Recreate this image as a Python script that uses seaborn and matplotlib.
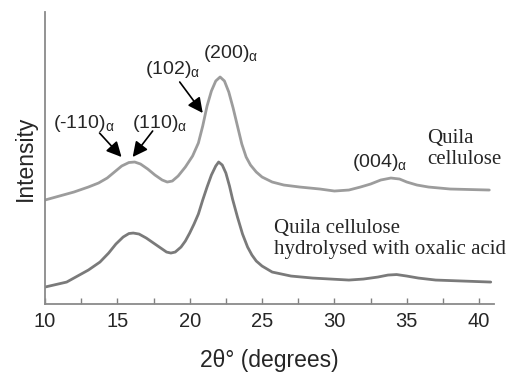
import pandas as pd
import matplotlib.pyplot as plt
import seaborn as sns

# XRD pattern (intensity in arbitrary units)
two_theta_top = [10, 11, 12, 13, 13.7, 14.3, 14.8, 15.3, 15.8, 16.2, 16.6, 17.1, 17.6, 18.1,
                 18.45, 18.8, 19.2, 19.7, 20.2, 20.6, 20.9, 21.2, 21.5, 21.8, 22.1, 22.4, 22.7,
                 23.0, 23.3, 23.6, 23.9, 24.2, 24.6, 25.0, 25.7, 26.5, 27.6, 29, 30, 31, 31.8,
                 32.5, 33.2, 33.9, 34.5, 35, 35.7, 36.5, 38, 40.7]
intensity_top = [104, 108, 112, 117, 121, 126, 132, 138, 141.5, 142, 140, 135, 129, 124,
                 122, 123, 128, 137, 148, 161, 178, 198, 213, 223, 227, 223, 212,
                 196, 178, 160, 147, 139, 132, 127, 122, 119, 117, 115, 113, 114, 117,
                 120, 124, 126, 125, 122, 119, 117, 115, 114]

two_theta_bottom = [10, 11.5, 13, 13.8, 14.4, 14.9, 15.4, 15.8, 16.1, 16.5, 17.0, 17.5, 18.0,
                    18.4, 18.7, 19.0, 19.4, 19.7, 20.0, 20.3, 20.6, 20.9, 21.2, 21.5, 21.8,
                    22.0, 22.25, 22.5, 22.75, 22.96, 23.3, 23.65, 24.0, 24.3, 24.6, 25.0, 25.7,
                    27, 28.5, 31, 32, 33, 33.7, 34.3, 35, 35.8, 37, 40.8]
intensity_bottom = [17, 22, 34, 42, 51, 60, 67, 70.5, 71, 70, 66, 61, 56,
                    52, 51, 52, 57, 63, 71, 80, 90, 104, 117, 129, 138,
                    142, 139, 131, 118, 105, 87, 70, 57, 49, 43, 38, 32,
                    28, 26, 24, 25, 27, 29, 29.5, 28, 26, 24, 22]

peak_labels = ['(-110)', '(110)', '(102)', '(200)', '(004)']
label_x = [12.66, 17.92, 18.82, 22.8, 33.1]
label_y = [181, 181, 234, 250, 142]

top = pd.DataFrame({'two_theta': two_theta_top, 'intensity': intensity_top})
bottom = pd.DataFrame({'two_theta': two_theta_bottom, 'intensity': intensity_bottom})

sns.set_style('white')
plt.rcParams['font.family'] = ['Liberation Sans', 'DejaVu Sans']

fig, ax = plt.subplots(figsize=(5.11, 3.74), dpi=100)
fig.subplots_adjust(left=0.088, right=0.966, bottom=0.187, top=0.968)

sns.lineplot(data=top, x='two_theta', y='intensity', ax=ax, color='#9c9c9c', linewidth=2)
sns.lineplot(data=bottom, x='two_theta', y='intensity', ax=ax, color='#7a7a7a', linewidth=2)

ax.set_xlim(10, 41)
ax.set_ylim(0, 292)
ax.set_xticks([10, 15, 20, 25, 30, 35, 40])
ax.set_xticks([12.5, 17.5, 22.5, 27.5, 32.5, 37.5], minor=True)
ax.set_yticks([])
ax.tick_params(axis='x', which='both', direction='in', length=4, width=1,
               color='#808080', labelsize=14.5, bottom=True, pad=6)
sns.despine(ax=ax)
for side in ['left', 'bottom']:
    ax.spines[side].set_color('#8a8a8a')
    ax.spines[side].set_linewidth(1.3)

ax.set_xlabel('2θ° (degrees)', fontsize=16.5, labelpad=13)
ax.set_ylabel('Intensity', fontsize=16.5, labelpad=6)

# Miller index labels
for lab, lx, ly in zip(peak_labels, label_x, label_y):
    ax.text(lx, ly, lab + r'$\mathregular{_α}$', fontsize=14, ha='center', va='center')

# arrows pointing at the peaks
arrow_tail = [(13.77, 171), (17.44, 173), (19.31, 222)]
arrow_head = [(15.29, 147), (16.06, 147), (20.9, 191)]
for (tx, ty), (hx, hy) in zip(arrow_tail, arrow_head):
    ax.annotate('', xy=(hx, hy), xytext=(tx, ty),
                arrowprops=dict(arrowstyle='-|>,head_length=0.9,head_width=0.45',
                                color='black', lw=1.2, shrinkA=0, shrinkB=0))

ax.text(36.4, 155, 'Quila\ncellulose', fontsize=15, family='Liberation Serif',
        ha='left', va='center', linespacing=1.1)
ax.text(25.82, 65, 'Quila cellulose\nhydrolysed with oxalic acid', fontsize=15,
        family='Liberation Serif', ha='left', va='center', linespacing=1.2)

plt.savefig('out.png')
